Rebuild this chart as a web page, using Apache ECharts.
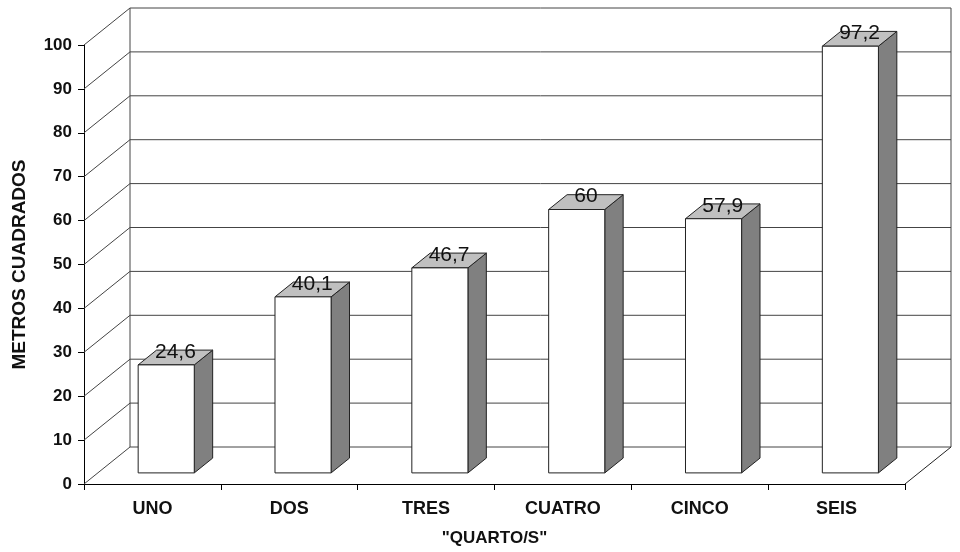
<!DOCTYPE html>
<html>
<head>
    <meta charset="utf-8">
    <title>METROS CUADRADOS</title>
    <script src="https://cdn.jsdelivr.net/npm/echarts@6/dist/echarts.min.js"></script>
    <style>
        html, body { margin: 0; padding: 0; background: #fff; }
    </style>
</head>
<body>
<div id="main" style="width: 960px;height:552px;"></div>
<script type="text/javascript">

    // datos del grafico
    var categorias = ['UNO', 'DOS', 'TRES', 'CUATRO', 'CINCO', 'SEIS'];
    var metros = [24.6, 40.1, 46.7, 60, 57.9, 97.2];
    var marcasY = [0, 10, 20, 30, 40, 50, 60, 70, 80, 90, 100];

    var FUENTE = '"Liberation Sans", Arial, sans-serif';
    // profundidad del "3D" en pixeles
    var PROF_X = 46, PROF_Y = 37;

    function etiqueta(v) {
        return String(v).replace('.', ',');
    }

    // pared del fondo, suelo y lineas de division
    function dibujaMarco(params, api) {
        var cs = params.coordSys;
        var v = api.value(1);
        var y = api.coord([0, v])[1];
        var x0 = cs.x, x1 = cs.x + cs.width;
        var hijos = [{
            type: 'polyline',
            shape: { points: [[x0, y], [x0 + PROF_X, y - PROF_Y], [x1 + PROF_X, y - PROF_Y]] },
            style: { stroke: '#444', lineWidth: 1, fill: null }
        }];
        if (params.dataIndex === 0) {
            var yTop = cs.y - PROF_Y;
            hijos.push({
                type: 'line',
                shape: { x1: x0 + PROF_X, y1: y - PROF_Y, x2: x0 + PROF_X, y2: yTop },
                style: { stroke: '#444', lineWidth: 1 }
            }, {
                type: 'line',
                shape: { x1: x1 + PROF_X, y1: y - PROF_Y, x2: x1 + PROF_X, y2: yTop },
                style: { stroke: '#444', lineWidth: 1 }
            }, {
                type: 'line',
                shape: { x1: x1, y1: y, x2: x1 + PROF_X, y2: y - PROF_Y },
                style: { stroke: '#222', lineWidth: 1 }
            });
        }
        return { type: 'group', children: hijos };
    }

    // barra con cara frontal, lateral y superior
    function dibujaBarra(params, api) {
        var i = api.value(0), v = api.value(1);
        var base = api.coord([i, 0]);
        var tope = api.coord([i, v]);
        var banda = api.size([1, 0])[0];
        var ancho = banda * 0.41;
        var fx = PROF_X * 0.3, fy = PROF_Y * 0.3;
        var bx = PROF_X * 0.4, by = PROF_Y * 0.4;
        var xl = base[0] + fx - ancho / 2, xr = xl + ancho;
        var yb = base[1] - fy, yt = tope[1] - fy;
        return {
            type: 'group',
            children: [{
                type: 'polygon',
                shape: { points: [[xr, yt], [xr + bx, yt - by], [xr + bx, yb - by], [xr, yb]] },
                style: { fill: '#808080', stroke: '#222', lineWidth: 1 }
            }, {
                type: 'polygon',
                shape: { points: [[xl, yt], [xl + bx, yt - by], [xr + bx, yt - by], [xr, yt]] },
                style: { fill: '#c0c0c0', stroke: '#222', lineWidth: 1 }
            }, {
                type: 'rect',
                shape: { x: xl, y: yt, width: ancho, height: yb - yt },
                style: { fill: '#fff', stroke: '#222', lineWidth: 1 }
            }, {
                type: 'text',
                x: (xl + xr) / 2 + bx / 2,
                y: yt - by + 2,
                style: {
                    text: etiqueta(v),
                    font: '21px ' + FUENTE,
                    fill: '#111',
                    align: 'center',
                    verticalAlign: 'middle'
                }
            }]
        };
    }

    var myChart = echarts.init(document.getElementById('main'));

    var option = {
        backgroundColor: '#fff',
        animation: false,
        grid: { left: 84, right: 55, top: 45, bottom: 68, containLabel: false },
        xAxis: {
            type: 'category',
            data: categorias,
            name: '"QUARTO/S"',
            nameLocation: 'middle',
            nameGap: 46,
            nameTextStyle: { fontFamily: FUENTE, fontWeight: 'bold', fontSize: 17, color: '#111' },
            axisLine: { lineStyle: { color: '#000', width: 1 } },
            axisTick: { show: true, length: 6, lineStyle: { color: '#000' } },
            axisLabel: { fontFamily: FUENTE, fontWeight: 'bold', fontSize: 18, color: '#111', margin: 16 },
            splitLine: { show: false }
        },
        yAxis: {
            type: 'value',
            min: 0,
            max: 100,
            interval: 10,
            name: 'METROS CUADRADOS',
            nameLocation: 'middle',
            nameRotate: 90,
            nameGap: 55,
            nameTextStyle: { fontFamily: FUENTE, fontWeight: 'bold', fontSize: 19, color: '#111' },
            axisLine: { show: true, lineStyle: { color: '#000', width: 1 } },
            axisTick: { show: true, length: 6, lineStyle: { color: '#000' } },
            axisLabel: { fontFamily: FUENTE, fontWeight: 'bold', fontSize: 17, color: '#111', margin: 12 },
            splitLine: { show: false }
        },
        series: [{
            type: 'custom',
            name: 'marco',
            renderItem: dibujaMarco,
            data: marcasY.map(function (m) { return [0, m]; }),
            silent: true,
            clip: false,
            z: 1
        }, {
            type: 'custom',
            name: 'metros',
            renderItem: dibujaBarra,
            data: metros.map(function (m, i) { return [i, m]; }),
            clip: false,
            z: 3
        }]
    };

    myChart.setOption(option);

</script>
</body>
</html>
